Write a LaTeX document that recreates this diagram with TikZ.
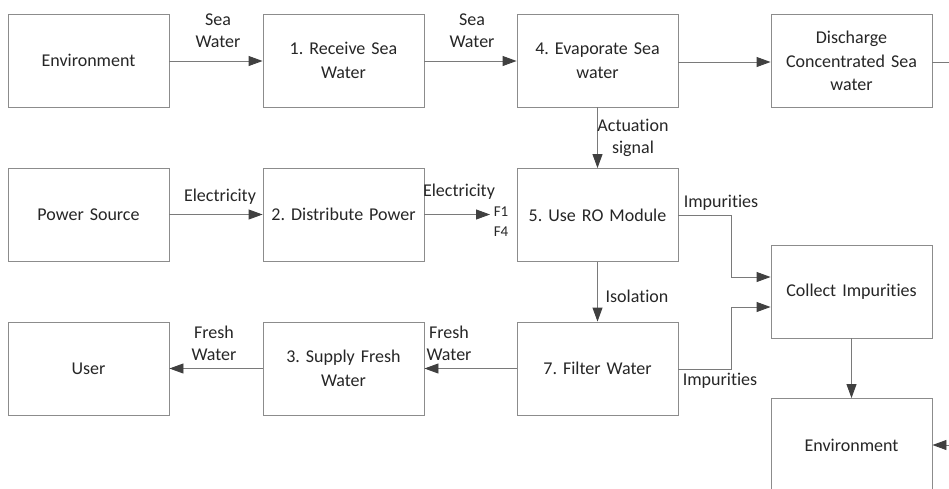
\documentclass[tikz,border=0pt]{standalone}
\usepackage{fontspec}
\setmainfont[Ligatures={NoCommon}]{Carlito}
\usetikzlibrary{arrows.meta}
\definecolor{boxline}{HTML}{8C8C8C}
\definecolor{conline}{HTML}{7A7A7A}
\definecolor{tipcol}{HTML}{404040}
\frenchspacing
\begin{document}
\begin{tikzpicture}[x=1pt,y=-1pt,
  box/.style={draw=boxline, line width=0.9pt, fill=white, minimum width=161pt, minimum height=93pt,
    inner sep=0pt, text width=152pt, align=center, font=\fontsize{18}{23.5}\selectfont, text=black!85},
  lbl/.style={font=\fontsize{18}{22}\selectfont, align=center, inner sep=0pt, text=black!85},
  con/.style={draw=conline, line width=0.9pt, -{Triangle[length=14pt,width=10pt,color=tipcol]}},
  plain/.style={draw=conline, line width=0.9pt}]
\useasboundingbox (0,0) rectangle (949,488);
\clip (0,0) rectangle (949,488);
% boxes
\node[box] (env1) at (88.5,60.5) {Environment};
\node[box] (recv) at (343.5,60.5) {1. Receive Sea\\Water};
\node[box] (evap) at (597.5,60.5) {4. Evaporate Sea\\water};
\node[box] (disc) at (851.5,61) {Discharge\\Concentrated Sea\\water};
\node[box] (power) at (88.5,214.5) {Power Source};
\node[box] (dist) at (343.5,214.5) {2. Distribute Power};
\node[box] (ro) at (597.5,215) {5. Use RO Module};
\node[box] (coll) at (851.5,291.5) {Collect Impurities};
\node[box] (user) at (88.5,368.5) {User};
\node[box] (supply) at (343.5,368.5) {3. Supply Fresh\\Water};
\node[box] (filter) at (597.5,368.5) {7. Filter Water};
\node[box] (env2) at (851.5,445) {Environment};
% helper coordinates
\coordinate (f) at (490,214.5);
\coordinate (ja) at (731,215);
\coordinate (jb) at (731,369);
\coordinate (ra) at (965,62);
\coordinate (rb) at (965,445);
% connectors
\draw[con] (env1.east |- 0,61) -- (recv.west |- 0,61);
\draw[con] (recv.east |- 0,61) -- (evap.west |- 0,61);
\draw[con] (evap.east |- 0,62) -- (disc.west |- 0,62);
\draw[con] (evap.south) -- (ro.north);
\draw[con] (power) -- (dist);
\draw[con] (dist.east) -- (f);
\draw[con] (ro.east) -- (ja) |- (coll.west |- 0,277);
\draw[con] (filter.east |- jb) -- (jb) |- (coll.west |- 0,307);
\draw[con] (ro.south) -- (filter.north);
\draw[con] (filter.west) -- (supply.east);
\draw[con] (supply.west) -- (user.east);
\draw[con] (coll.south) -- (env2.north);
\draw[plain] (disc.east |- ra) -- (ra) -- (rb);
\draw[con] (rb) -- (env2.east);
% labels
\node[lbl] (l1) at (218,31) {Sea\\Water};
\node[lbl] (l2) at (472,31) {Sea\\Water};
\node[lbl] (l3) at (633,138) {Actuation\\signal};
\node[lbl] (l4) at (220,197) {Electricity};
\node[lbl] (l5) at (459,192) {Electricity};
\node[lbl, font=\fontsize{15}{20}\selectfont] (l6) at (501,222) {F1\\F4};
\node[lbl] (l7) at (721,203) {Impurities};
\node[lbl] (l8) at (637,296) {Isolation};
\node[lbl] (l9) at (720,381) {Impurities};
\node[lbl] (l10) at (449,343) {Fresh\\Water};
\node[lbl] (l11) at (214,343) {Fresh\\Water};
\end{tikzpicture}
\end{document}
